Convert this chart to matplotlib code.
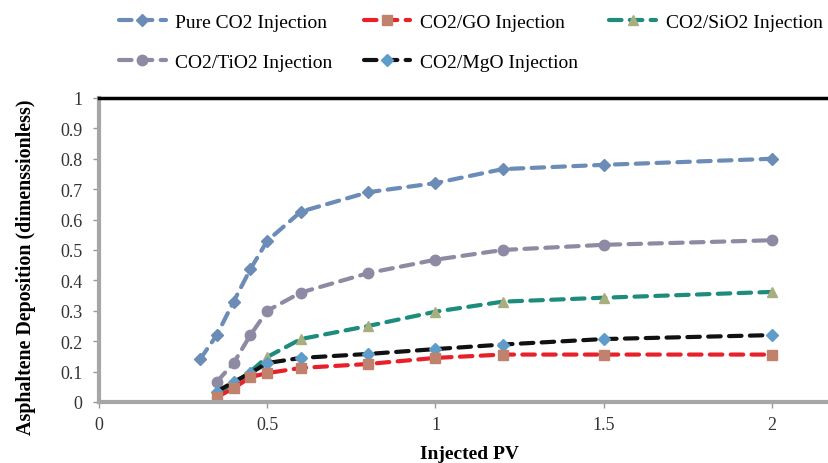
import matplotlib
matplotlib.use("Agg")
import matplotlib.pyplot as plt

plt.rcParams["font.family"] = ["Liberation Serif", "DejaVu Serif"]

pv = [0.35, 0.4, 0.45, 0.5, 0.6, 0.8, 1.0, 1.2, 1.5, 2.0]
pv_pure = [0.3] + pv

pure_co2 = [0.14, 0.22, 0.33, 0.437, 0.53, 0.626, 0.69, 0.72, 0.766, 0.78, 0.80]
co2_go = [0.016, 0.045, 0.082, 0.095, 0.112, 0.125, 0.145, 0.156, 0.156, 0.156]
co2_sio2 = [0.03, 0.06, 0.10, 0.148, 0.207, 0.25, 0.297, 0.33, 0.343, 0.362]
co2_tio2 = [0.066, 0.128, 0.22, 0.30, 0.36, 0.424, 0.468, 0.50, 0.517, 0.532]
co2_mgo = [0.034, 0.066, 0.095, 0.128, 0.145, 0.158, 0.174, 0.189, 0.207, 0.22]

fig = plt.figure(figsize=(8.29, 4.64), dpi=100)
ax = fig.add_axes([0.1194, 0.1315, 0.893, 0.6552])

style = dict(lw=3, dashes=(3, 2), dash_capstyle="round")

l_pure, = ax.plot(pv_pure, pure_co2, color="#6C8CB8", marker="D", markersize=6,
                  markerfacecolor="#6C8CB8", markeredgecolor="#6C8CB8",
                  label="Pure CO2 Injection", **style)
l_tio2, = ax.plot(pv, co2_tio2, color="#8F8AA3", marker="o", markersize=7.5,
                  markerfacecolor="#8F8AA3", markeredgecolor="#8F8AA3",
                  label="CO2/TiO2 Injection", **style)
l_sio2, = ax.plot(pv, co2_sio2, color="#1E8C7C", marker="^", markersize=7,
                  markerfacecolor="#A9AE7E", markeredgecolor="#A9AE7E",
                  label="CO2/SiO2 Injection", **style)
l_mgo, = ax.plot(pv, co2_mgo, color="#111111", marker="D", markersize=6.5,
                 markerfacecolor="#5E9CC9", markeredgecolor="#5E9CC9",
                 label="CO2/MgO Injection", **style)
l_go, = ax.plot(pv, co2_go, color="#E8202A", marker="s", markersize=6.5,
                markerfacecolor="#C0826C", markeredgecolor="#C0826C",
                label="CO2/GO Injection", **style)

ax.set_xlim(0, 2.2)
ax.set_ylim(0, 1)
ax.set_xticks([0, 0.5, 1, 1.5, 2])
ax.set_xticklabels(["0", "0.5", "1", "1.5", "2"])
ax.set_yticks([i / 10 for i in range(11)])
ax.set_yticklabels(["0", "0.1", "0.2", "0.3", "0.4", "0.5", "0.6", "0.7", "0.8", "0.9", "1"])
ax.tick_params(axis="both", labelsize=13, length=4, width=1, color="#999999",
               labelcolor="#333333")
ax.tick_params(axis="y", pad=8)
ax.tick_params(axis="x", pad=6)

ax.spines["top"].set_color("black")
ax.spines["top"].set_linewidth(2.5)
ax.spines["left"].set_color("#A6A6A6")
ax.spines["left"].set_linewidth(3)
ax.spines["bottom"].set_color("#A6A6A6")
ax.spines["bottom"].set_linewidth(3)
ax.spines["right"].set_visible(False)

ax.set_xlabel("Injected PV", fontsize=14, fontweight="bold")
ax.xaxis.set_label_coords(0.5, -0.14)
ax.set_ylabel("Asphaltene Deposition (dimenssionless)", fontsize=14.4, fontweight="bold")
ax.yaxis.set_label_coords(-0.085, 0.447)

handles = [l_pure, l_tio2, l_go, l_mgo, l_sio2]
fig.legend(handles=handles, labels=[h.get_label() for h in handles], ncol=3,
           loc="upper left", bbox_to_anchor=(0.1435, 0.97), frameon=False, fontsize=14,
           borderpad=0, borderaxespad=0, handlelength=2.4, columnspacing=1.6,
           labelspacing=1.15, handletextpad=0.5)

fig.savefig("out.png", dpi=100)
